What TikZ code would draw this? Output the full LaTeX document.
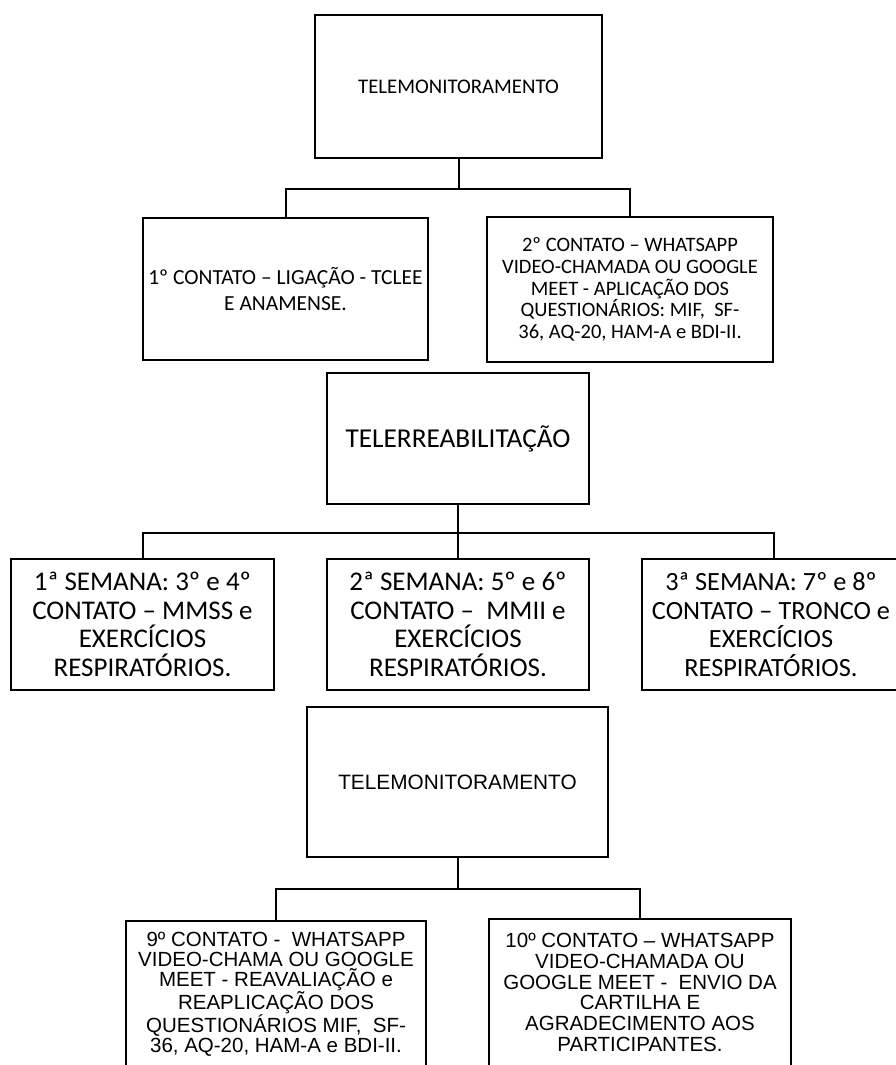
\documentclass[tikz,border=0pt]{standalone}
\usepackage{fontspec}
\newfontfamily\carlitofam{Carlito}
\newfontfamily\arialfam{Liberation Sans}
\begin{document}
\begin{tikzpicture}[x=1pt,y=-1pt,
  box/.style={draw=black, line width=2pt, inner sep=0pt, align=center, fill=white},
  txt/.style={inner sep=0pt, align=center},
  conn/.style={draw=black, line width=2pt}]
\useasboundingbox (0,0) rectangle (896,1065);
\clip (0,0) rectangle (896,1065);
\fill[white] (0,0) rectangle (896,1065);
% top section
\node[box, minimum width=287pt, minimum height=143pt, font=\carlitofam\fontsize{20.8}{24}\selectfont] (t1) at (458.5,86.5) {TELEMONITORAMENTO};
\node[box, minimum width=285pt, minimum height=142pt, font=\carlitofam\fontsize{21.5}{26.7}\selectfont] (b1) at (285.5,289) {1º CONTATO – LIGAÇÃO - TCLEE\\E ANAMENSE.};
\node[box, minimum width=286pt, minimum height=145pt, font=\carlitofam\fontsize{20.5}{21.7}\selectfont] (b2) at (630,289.5) {2º CONTATO – WHATSAPP\\VIDEO-CHAMADA OU GOOGLE\\MEET - APLICAÇÃO DOS\\QUESTIONÁRIOS: MIF,\ \ SF-\\36, AQ-20, HAM-A e BDI-II.};
\draw[conn] (t1.south) -- ++(0,30) coordinate (j1);
\draw[conn] (b1.north) |- (j1) -| (b2.north);
% middle section
\node[box, minimum width=262pt, minimum height=131pt, font=\carlitofam\fontsize{27.3}{30}\selectfont] (tr) at (458,438.5) {TELERREABILITAÇÃO};
\node[box, minimum width=263pt, minimum height=131pt, font=\carlitofam\fontsize{27}{28.5}\selectfont] (w1) at (142.5,624.5) {1ª SEMANA: 3º e 4º\\CONTATO – MMSS e\\EXERCÍCIOS\\RESPIRATÓRIOS.};
\node[box, minimum width=262pt, minimum height=131pt, font=\carlitofam\fontsize{27}{28.5}\selectfont] (w2) at (458,624.5) {2ª SEMANA: 5º e 6º\\CONTATO –\ \ MMII e\\EXERCÍCIOS\\RESPIRATÓRIOS.};
\node[box, minimum width=256pt, minimum height=131pt] (w3) at (770,624.5) {};
\node[txt, font=\carlitofam\fontsize{26.3}{28.5}\selectfont] (w3t) at (771,624.5) {3ª SEMANA: 7º e 8º\\CONTATO – TRONCO e\\EXERCÍCIOS\\RESPIRATÓRIOS.};
\draw[conn] (tr.south) -- ++(0,28) coordinate (j2);
\draw[conn] (w1.north) |- (j2) -| ([xshift=4pt]w3.north);
\draw[conn] (j2) -- (w2.north);
% bottom section
\node[box, minimum width=301pt, minimum height=150pt, font=\arialfam\fontsize{20.8}{24}\selectfont] (t2) at (457.5,782) {TELEMONITORAMENTO};
\node[box, minimum width=300pt, minimum height=147pt, font=\arialfam\fontsize{20.5}{20}\selectfont] (c9) at (276,994) {9º CONTATO -\ \ WHATSAPP\\VIDEO-CHAMA OU GOOGLE\\MEET - REAVALIAÇÃO e\\REAPLICAÇÃO DOS\\QUESTIONÁRIOS MIF,\ \ SF-\\36, AQ-20, HAM-A e BDI-II.};
\node[box, minimum width=302pt, minimum height=147pt, font=\arialfam\fontsize{20.5}{20.8}\selectfont] (c10) at (640,992.5) {10º CONTATO – WHATSAPP\\VIDEO-CHAMADA OU\\GOOGLE MEET -\ \ ENVIO DA\\CARTILHA E\\AGRADECIMENTO AOS\\PARTICIPANTES.};
\draw[conn] (t2.south) -- ++(0,31) coordinate (j3);
\draw[conn] (c9.north) |- (j3) -| (c10.north);
\end{tikzpicture}
\end{document}
